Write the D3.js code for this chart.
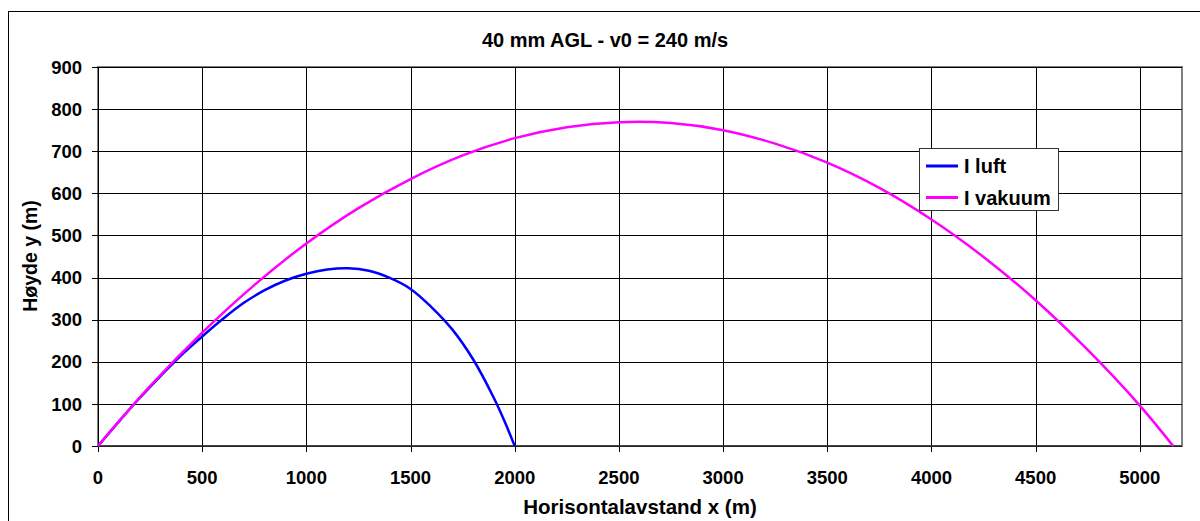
<!DOCTYPE html>
<html>
<head>
<meta charset="utf-8">
<script src="https://cdn.jsdelivr.net/npm/d3@7/dist/d3.min.js"></script>
<style>
  html, body { margin: 0; padding: 0; background: #fff; }
  svg { display: block; }
  text { font-family: "Liberation Sans", Arial, Helvetica, sans-serif; font-weight: bold; fill: #000; }
</style>
</head>
<body>
<svg id="chart" width="1200" height="521"></svg>
<script>
// Trajectory of a 40 mm grenade, muzzle velocity 240 m/s
const chartTitle = "40 mm AGL - v0 = 240 m/s";
const xTitle = "Horisontalavstand x (m)";
const yTitle = "Høyde y (m)";

const xTicks = [0, 500, 1000, 1500, 2000, 2500, 3000, 3500, 4000, 4500, 5000];
const yTicks = [0, 100, 200, 300, 400, 500, 600, 700, 800, 900];

// With air resistance
const airX = [0, 100, 200, 300, 400, 500, 600, 700, 800, 900, 1000, 1100, 1200, 1300, 1400, 1500, 1600, 1700, 1800, 1900, 1950, 2000];
const airY = [0, 58, 114, 166, 216, 260, 302, 340, 370, 393, 409, 419, 422, 416, 399, 373, 330, 277, 206, 114, 60, 0];

// In vacuum
const vacX = [0, 250, 500, 750, 1000, 1250, 1500, 1750, 2000, 2250, 2500, 2750, 3000, 3250, 3500, 3750, 4000, 4250, 4500, 4750, 5000, 5160];
const vacY = [0, 142, 269, 382, 481, 565, 634, 690, 731, 757, 769, 767, 750, 718, 673, 613, 538, 449, 346, 228, 96, 0];

const series = [
  { name: "I luft", color: "#0000ff", xs: airX, ys: airY },
  { name: "I vakuum", color: "#ff00ff", xs: vacX, ys: vacY }
];

const svg = d3.select("#chart");
const plotL = 98, plotR = 1181.5, plotT = 67, plotB = 446;

const x = d3.scaleLinear().domain([0, 5200]).range([plotL, plotR]);
const y = d3.scaleLinear().domain([0, 900]).range([plotB, plotT]);

// outer chart frame
svg.append("rect")
  .attr("x", 8.5).attr("y", 11.5).attr("width", 1194).attr("height", 520)
  .attr("fill", "#fff").attr("stroke", "#000").attr("stroke-width", 1);

// plot area border
svg.append("rect")
  .attr("x", plotL).attr("y", plotT).attr("width", plotR - plotL).attr("height", plotB - plotT)
  .attr("fill", "none").attr("stroke", "#808080").attr("stroke-width", 2)
  .attr("shape-rendering", "crispEdges");

// gridlines
const grid = svg.append("g").attr("shape-rendering", "crispEdges");
grid.selectAll("line.h").data(yTicks).join("line")
  .attr("class", "h")
  .attr("x1", plotL - 6).attr("x2", plotR)
  .attr("y1", d => Math.round(y(d)) + 0.5).attr("y2", d => Math.round(y(d)) + 0.5)
  .attr("stroke", "#000").attr("stroke-width", 1);
grid.selectAll("line.v").data(xTicks).join("line")
  .attr("class", "v")
  .attr("y1", plotT).attr("y2", plotB + 6)
  .attr("x1", d => Math.round(x(d)) + 0.5).attr("x2", d => Math.round(x(d)) + 0.5)
  .attr("stroke", "#000").attr("stroke-width", 1);

// x axis baseline
svg.append("line")
  .attr("x1", plotL).attr("x2", plotR)
  .attr("y1", plotB).attr("y2", plotB)
  .attr("stroke", "#333").attr("stroke-width", 1.5);

// tick labels
svg.append("g").selectAll("text").data(yTicks).join("text")
  .attr("x", 82).attr("y", d => y(d)).attr("dy", "0.36em")
  .attr("text-anchor", "end").attr("font-size", 18.5)
  .text(d => d);
svg.append("g").selectAll("text").data(xTicks).join("text")
  .attr("x", d => x(d)).attr("y", 484)
  .attr("text-anchor", "middle").attr("font-size", 18.5)
  .text(d => d);

// titles
svg.append("text").attr("x", 605).attr("y", 47).attr("text-anchor", "middle")
  .attr("font-size", 20).text(chartTitle);
svg.append("text").attr("x", 640).attr("y", 514).attr("text-anchor", "middle")
  .attr("font-size", 20.5).text(xTitle);
svg.append("text").attr("transform", "translate(37,256) rotate(-90)")
  .attr("text-anchor", "middle").attr("font-size", 19.5).text(yTitle);

// curves
const line = d3.line()
  .x(d => x(d[0])).y(d => y(d[1]))
  .curve(d3.curveCatmullRom.alpha(0.5));
const plot = svg.append("g");
series.forEach(s => {
  plot.append("path")
    .datum(s.xs.map((v, i) => [v, s.ys[i]]))
    .attr("d", line)
    .attr("fill", "none").attr("stroke", s.color).attr("stroke-width", 2.5)
    .attr("stroke-linejoin", "round");
});

// legend
const lg = svg.append("g");
lg.append("rect")
  .attr("x", 919.5).attr("y", 148.5).attr("width", 139).attr("height", 62)
  .attr("fill", "#fff").attr("stroke", "#333").attr("stroke-width", 1);
series.forEach((s, i) => {
  const yy = 166 + i * 31.5;
  lg.append("line").attr("x1", 926).attr("x2", 958).attr("y1", yy).attr("y2", yy)
    .attr("stroke", s.color).attr("stroke-width", 3);
  lg.append("text").attr("x", 964).attr("y", yy).attr("dy", "0.36em")
    .attr("font-size", 20).text(s.name);
});
</script>
</body>
</html>
